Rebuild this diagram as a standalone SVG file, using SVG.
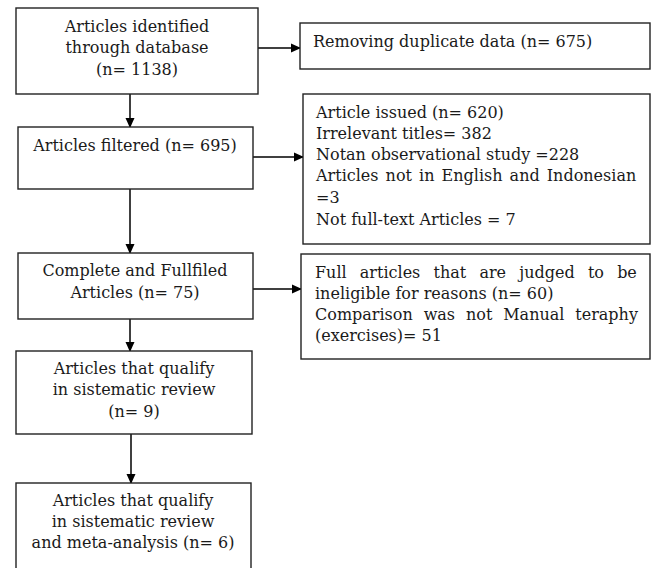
<svg xmlns="http://www.w3.org/2000/svg" width="656" height="568" viewBox="0 0 656 568">
<defs>
<marker id="ah" markerWidth="10" markerHeight="10" refX="9" refY="5" orient="auto" markerUnits="userSpaceOnUse">
<path d="M0,0.5 L10,5 L0,9.5 Z" fill="#000"/>
</marker>
</defs>
<style>
.box{fill:#fff;stroke:#222;stroke-width:1.4}
.t{font-family:"DejaVu Serif",serif;font-size:16px;fill:#1a1a1a}
.c{text-anchor:middle}
.ln{stroke:#000;stroke-width:1.5;fill:none;marker-end:url(#ah)}
</style>
<rect width="656" height="568" fill="#fff"/>
<g id="connectors">
<line class="ln" x1="130" y1="94" x2="130" y2="127"/>
<line class="ln" x1="258" y1="48" x2="300" y2="48"/>
<line class="ln" x1="253" y1="157" x2="303" y2="157"/>
<line class="ln" x1="130" y1="189" x2="130" y2="253"/>
<line class="ln" x1="253" y1="289" x2="301" y2="289"/>
<line class="ln" x1="130" y1="319" x2="130" y2="351"/>
<line class="ln" x1="131" y1="434" x2="131" y2="483"/>
</g>
<g id="identified">
<rect class="box" x="16" y="8" width="242" height="86"/>
<text class="t c" x="137" y="32">Articles identified</text>
<text class="t c" x="137" y="53">through database</text>
<text class="t c" x="137" y="75">(n= 1138)</text>
</g>
<g id="duplicates">
<rect class="box" x="300" y="23" width="350" height="46"/>
<text class="t" x="313" y="47">Removing duplicate data (n= 675)</text>
</g>
<g id="filtered">
<rect class="box" x="18" y="127" width="235" height="62"/>
<text class="t c" x="135" y="151">Articles filtered (n= 695)</text>
</g>
<g id="excluded1">
<rect class="box" x="303" y="94" width="347" height="150"/>
<text class="t" x="316" y="118">Article issued (n= 620)</text>
<text class="t" x="316" y="139">Irrelevant titles= 382</text>
<text class="t" x="316" y="160">Notan observational study =228</text>
<text class="t" x="316" y="181" word-spacing="2">Articles not in English and Indonesian</text>
<text class="t" x="316" y="203">=3</text>
<text class="t" x="316" y="225">Not full-text Articles = 7</text>
</g>
<g id="complete">
<rect class="box" x="18" y="253" width="235" height="66"/>
<text class="t c" x="135" y="276">Complete and Fullfiled</text>
<text class="t c" x="135" y="298">Articles (n= 75)</text>
</g>
<g id="excluded2">
<rect class="box" x="301" y="254" width="349" height="105"/>
<text class="t" x="315" y="278" word-spacing="8.1">Full articles that are judged to be</text>
<text class="t" x="315" y="299">ineligible for reasons (n= 60)</text>
<text class="t" x="315" y="320" word-spacing="5.8">Comparison was not Manual teraphy</text>
<text class="t" x="315" y="341">(exercises)= 51</text>
</g>
<g id="systematic">
<rect class="box" x="16" y="351" width="236" height="83"/>
<text class="t c" x="134" y="374">Articles that qualify</text>
<text class="t c" x="134" y="395">in sistematic review</text>
<text class="t c" x="134" y="417">(n= 9)</text>
</g>
<g id="meta">
<rect class="box" x="16" y="483" width="235" height="90"/>
<text class="t c" x="133" y="506">Articles that qualify</text>
<text class="t c" x="133" y="527">in sistematic review</text>
<text class="t c" x="133" y="548">and meta-analysis (n= 6)</text>
</g>
</svg>
